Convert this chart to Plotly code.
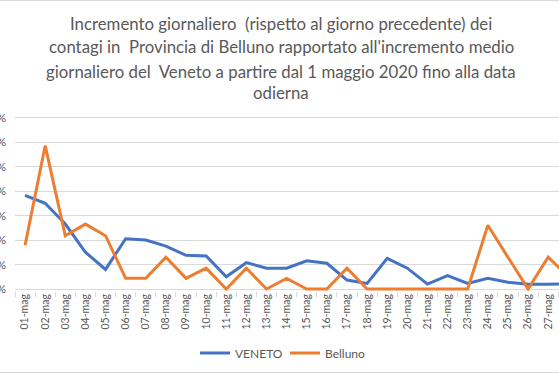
import plotly.graph_objects as go

days = ["01-mag", "02-mag", "03-mag", "04-mag", "05-mag", "06-mag", "07-mag",
        "08-mag", "09-mag", "10-mag", "11-mag", "12-mag", "13-mag", "14-mag",
        "15-mag", "16-mag", "17-mag", "18-mag", "19-mag", "20-mag", "21-mag",
        "22-mag", "23-mag", "24-mag", "25-mag", "26-mag", "27-mag", "28-mag"]

# daily increment, in percent
veneto = [0.765, 0.70, 0.53, 0.30, 0.16, 0.41, 0.40, 0.35, 0.275, 0.27,
          0.10, 0.215, 0.17, 0.17, 0.23, 0.21, 0.073, 0.046, 0.25, 0.17,
          0.04, 0.11, 0.046, 0.087, 0.055, 0.038, 0.038, 0.045]
belluno = [0.357, 1.17, 0.435, 0.53, 0.435, 0.087, 0.087, 0.26, 0.087, 0.17,
           0.0, 0.17, 0.0, 0.087, 0.0, 0.0, 0.17, 0.0, 0.0, 0.0,
           0.0, 0.0, 0.0, 0.52, 0.26, 0.0, 0.26, 0.10]

y_ticks = [0.0, 0.2, 0.4, 0.6, 0.8, 1.0, 1.2, 1.4]
y_tick_labels = [f"{v:.1f}%".replace(".", ",") for v in y_ticks]

title_lines = [
    "Incremento giornaliero \u00a0(rispetto al giorno precedente) dei",
    "contagi in \u00a0Provincia di Belluno rapportato all'incremento medio",
    "giornaliero del \u00a0Veneto a partire dal 1 maggio 2020 fino alla data",
    "odierna",
]

W, H = 559, 373
ML, MR, MT, MB = 15, 0, 110, 82
plot_h = H - MT - MB
plot_w = W - ML - MR
px_per_unit = 122.5
y_min = -(H - MB - 289) / px_per_unit
y_max = y_min + plot_h / px_per_unit
cat_px = 20.12
x_max = -0.5 + plot_w / cat_px

def py(px):
    return (H - MB - px) / plot_h

def pxx(px):
    return (px - ML) / plot_w

fig = go.Figure()
fig.add_trace(go.Scatter(x=days, y=veneto, mode="lines", name="VENETO",
                         line=dict(color="#4472C4", width=3)))
fig.add_trace(go.Scatter(x=days, y=belluno, mode="lines", name="Belluno",
                         line=dict(color="#ED7D31", width=3)))

gray = "#595959"
title_y = [23, 47, 71, 93]
for txt, yy in zip(title_lines, title_y):
    fig.add_annotation(text=txt, xref="paper", yref="paper", x=pxx(281), y=py(yy),
                       xanchor="center", yanchor="middle", showarrow=False,
                       font=dict(family="Lato", size=16.8, color=gray))

fig.add_shape(type="rect", xref="paper", yref="paper",
              x0=-0.2, x1=1.2, y0=py(372.5), y1=py(0.5),
              line=dict(color="#D9D9D9", width=1), fillcolor="rgba(0,0,0,0)",
              layer="below")

fig.update_layout(
    width=W, height=H,
    margin=dict(l=ML, r=MR, t=MT, b=MB, pad=0),
    paper_bgcolor="white", plot_bgcolor="white",
    showlegend=True,
    legend=dict(orientation="h", x=pxx(195), y=py(353), xanchor="left",
                yanchor="middle", entrywidth=45, entrywidthmode="pixels",
                font=dict(family="Lato", size=12, color=gray),
                bgcolor="rgba(0,0,0,0)"),
    font=dict(family="Lato", color=gray),
)
fig.update_xaxes(type="category", range=[-0.5, x_max], tickangle=-90,
                 tickfont=dict(family="Lato", size=10.5, color=gray),
                 ticks="outside", ticklen=5, tickcolor="#D9D9D9",
                 tickson="boundaries", showgrid=False, showline=False,
                 zeroline=False, automargin=False)
fig.update_yaxes(range=[y_min, y_max], tickvals=y_ticks, ticktext=y_tick_labels,
                 tickfont=dict(family="Lato", size=12, color=gray),
                 showgrid=True, gridcolor="#D9D9D9", gridwidth=1,
                 zeroline=True, zerolinecolor="#D9D9D9", zerolinewidth=1,
                 showline=False, ticks="", ticklabelstandoff=8, automargin=False)

fig.write_html("out.html", config={"displayModeBar": False},
               post_script="document.body.style.margin='0';document.body.style.padding='0';")
